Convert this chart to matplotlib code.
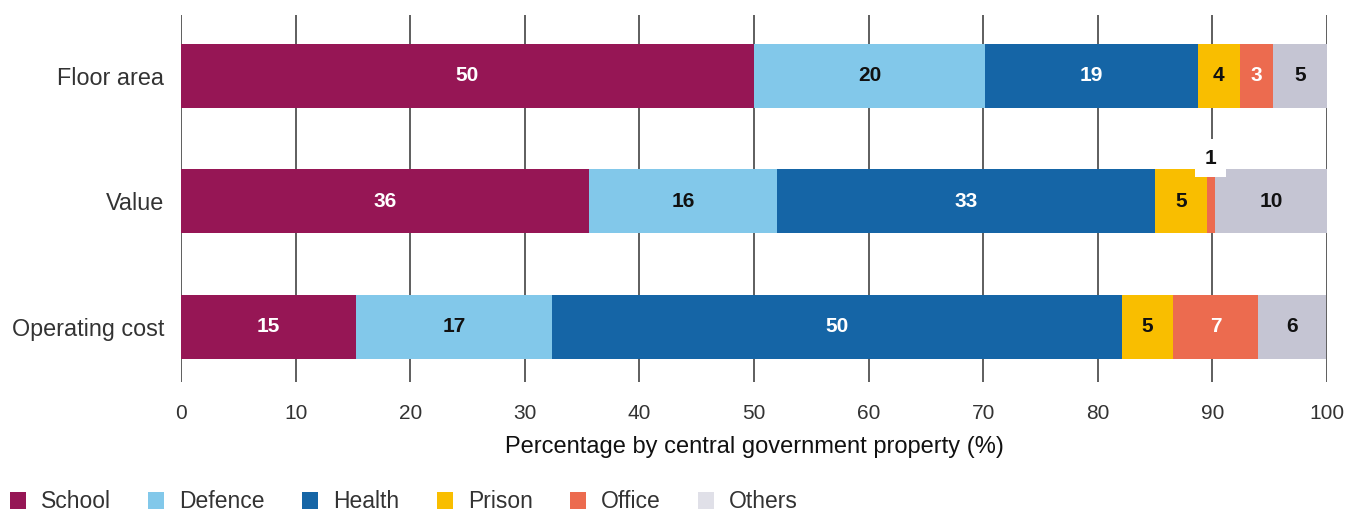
import matplotlib.pyplot as plt
from matplotlib.patches import Patch

plt.rcParams['font.family'] = ['Liberation Sans', 'DejaVu Sans']

# Data
measures = ['Floor area', 'Value', 'Operating cost']
types = ['School', 'Defence', 'Health', 'Prison', 'Office', 'Others']
shares = {
    'School':  [50.0, 35.6, 15.3],
    'Defence': [20.2, 16.4, 17.1],
    'Health':  [18.5, 33.0, 49.7],
    'Prison':  [3.7, 4.5, 4.5],
    'Office':  [2.9, 0.7, 7.4],
    'Others':  [4.7, 9.8, 5.9],
}
labels = {
    'School':  ['50', '36', '15'],
    'Defence': ['20', '16', '17'],
    'Health':  ['19', '33', '50'],
    'Prison':  ['4', '5', '5'],
    'Office':  ['3', '1', '7'],
    'Others':  ['5', '10', '6'],
}
x_ticks = [0, 10, 20, 30, 40, 50, 60, 70, 80, 90, 100]

colors = {'School': '#961655', 'Defence': '#82c8ea', 'Health': '#1565a6',
          'Prison': '#f9be00', 'Office': '#ec6b4f', 'Others': '#c5c5d3'}
legend_colors = dict(colors, Others='#e0e0e8')
text_colors = {'School': 'white', 'Defence': '#111111', 'Health': 'white',
               'Prison': '#111111', 'Office': 'white', 'Others': '#111111'}

fig = plt.figure(figsize=(13.59, 5.14), dpi=100)
ax = fig.add_axes([181 / 1359, 1 - 382 / 514, 1146 / 1359, 367 / 514])

ypos = list(range(len(measures)))
left = [0.0] * len(measures)
for t in types:
    vals = shares[t]
    ax.barh(ypos, vals, left=left, height=0.51, color=colors[t], zorder=2)
    for i, v in enumerate(vals):
        cx = left[i] + v / 2
        if v < 1.5:
            # tiny segment: label sits above the bar
            ax.text(cx, i - 0.345, labels[t][i], ha='center', va='center',
                    fontsize=15, fontweight='bold', color='#111111', zorder=3,
                    bbox=dict(facecolor='white', edgecolor='none', pad=7))
        else:
            ax.text(cx, i, labels[t][i], ha='center', va='center',
                    fontsize=15, fontweight='bold', color=text_colors[t], zorder=3)
    left = [l + v for l, v in zip(left, vals)]

ax.set_xlim(0, 100)
ax.set_ylim(2.44, -0.486)
ax.set_xticks(x_ticks)
ax.set_yticks(ypos)
ax.set_yticklabels(measures, fontsize=16.8, color='#333333')
ax.tick_params(axis='y', length=0, pad=12)
ax.tick_params(axis='x', length=0, pad=16, labelsize=15, labelcolor='#333333')
ax.grid(axis='x', color='#333333', linewidth=1.1, zorder=0)
ax.set_axisbelow(True)
for s in ax.spines.values():
    s.set_visible(False)
ax.set_xlabel('Percentage by central government property (%)', fontsize=17,
              color='#111111', labelpad=9)

handles = [Patch(facecolor=legend_colors[t], edgecolor='none') for t in types]
fig.legend(handles, types, loc='center left', bbox_to_anchor=(5 / 1359, 1 - 502 / 514),
           ncol=6, frameon=False, fontsize=16.5, handlelength=0.7, handleheight=0.7,
           handletextpad=0.65, columnspacing=1.64, borderaxespad=0, borderpad=0.2,
           labelcolor='#333333')

fig.savefig('out.png', dpi=100)
